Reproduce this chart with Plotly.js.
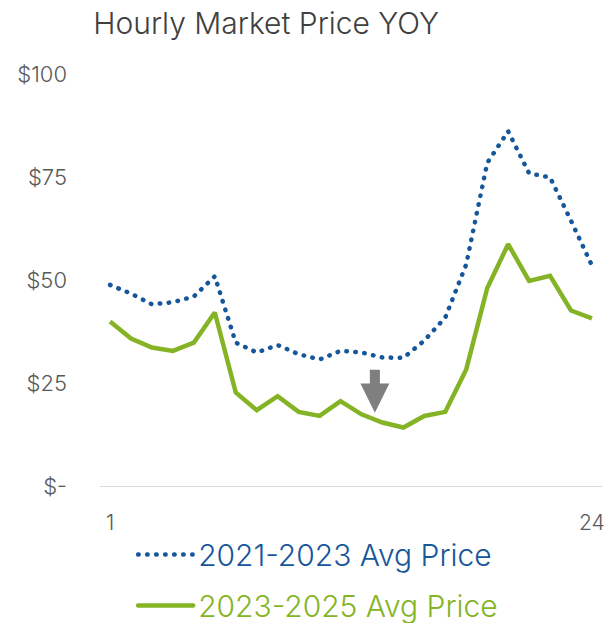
<!DOCTYPE html>
<html>
<head>
<meta charset="utf-8">
<script src="https://cdn.plot.ly/plotly-3.0.1.min.js"></script>
<style>html,body{margin:0;padding:0;background:#fff;}#chart{width:605px;height:623px;}</style>
</head>
<body>
<div id="chart"></div>
<script>
const hours = [1,2,3,4,5,6,7,8,9,10,11,12,13,14,15,16,17,18,19,20,21,22,23,24];
const price2021_2023 = [48.8,46.7,44.1,44.6,46.0,50.9,34.8,32.4,34.2,32.0,30.7,32.8,32.4,31.2,31.1,35.3,40.9,53.8,78.4,86.1,75.9,74.9,64.4,53.5];
const price2023_2025 = [39.9,35.8,33.6,32.8,34.8,42.1,22.7,18.4,21.8,18.0,17.0,20.6,17.4,15.4,14.2,17.0,18.0,28.3,48.0,58.7,49.8,51.0,42.6,40.7];
const seriesNames = ["2021-2023 Avg Price","2023-2025 Avg Price"];
const yTickVals = [0,25,50,75,100];
const yTickText = ["$-","$25","$50","$75","$100"];
const xTickVals = [1,24];
const xTickText = ["1","24"];

const font = "Inter, Noto Sans, sans-serif";

const traces = [
  {x: hours, y: price2021_2023, name: seriesNames[0], type: "scatter", mode: "lines",
   legendgroup: "a",
   line: {color: "#16569A", width: 4.5, dash: "0.5px,8.5px"}},
  {x: hours, y: price2023_2025, name: seriesNames[1], type: "scatter", mode: "lines",
   legendgroup: "b",
   line: {color: "#84B425", width: 4.5}}
];

const layout = {
  width: 605, height: 623,
  margin: {l: 100, r: 3, t: 74, b: 137, autoexpand: false},
  paper_bgcolor: "#fff", plot_bgcolor: "#fff",
  font: {family: font, color: "#595959", weight: 300},
  title: {text: "Hourly Market Price YOY", font: {family: font, size: 30, color: "#404040", weight: 300},
          x: 0.44, xref: "container", xanchor: "center", y: 0.962, yref: "container", yanchor: "middle"},
  xaxis: {range: [0.52, 24.48], tickvals: xTickVals, ticktext: xTickText, showgrid: false,
          zeroline: false, showline: true, linecolor: "#D9D9D9", linewidth: 1,
          ticks: "", ticklabelstandoff: 18, tickfont: {size: 21, color: "#595959", weight: 300}},
  yaxis: {range: [0, 100], tickvals: yTickVals, ticktext: yTickText, showgrid: false,
          zeroline: false, showline: false, ticks: "", ticklabelstandoff: 32,
          tickfont: {size: 22, color: "#595959", weight: 300}},
  showlegend: true,
  legend: {orientation: "v", x: 0.066, xanchor: "left", y: -0.103, yanchor: "top",
           font: {size: 30, weight: 300}, traceorder: "grouped", tracegroupgap: 9, itemwidth: 55,
           maxheight: 200, borderwidth: 0,
           bgcolor: "rgba(0,0,0,0)"},
  shapes: [
    {type: "path", xref: "x", yref: "y",
     path: "M13.40,28.2 L13.88,28.2 L13.88,24.9 L14.33,24.9 L13.64,17.8 L12.95,24.9 L13.40,24.9 Z",
     fillcolor: "#7F7F7F", line: {width: 0}}
  ]
};

Plotly.newPlot("chart", traces, layout, {displayModeBar: false, staticPlot: true}).then(function(){
  const items = document.querySelectorAll('.legend .traces .legendtext');
  const cols = ["#16569A", "#84B425"];
  items.forEach(function(t, i){ t.style.fill = cols[i]; });
  document.querySelectorAll('.scatterlayer .trace:first-child path.js-line, .legend .traces:first-child path.js-line')
    .forEach(function(p){ p.style.strokeLinecap = 'round'; });
});
</script>
</body>
</html>
